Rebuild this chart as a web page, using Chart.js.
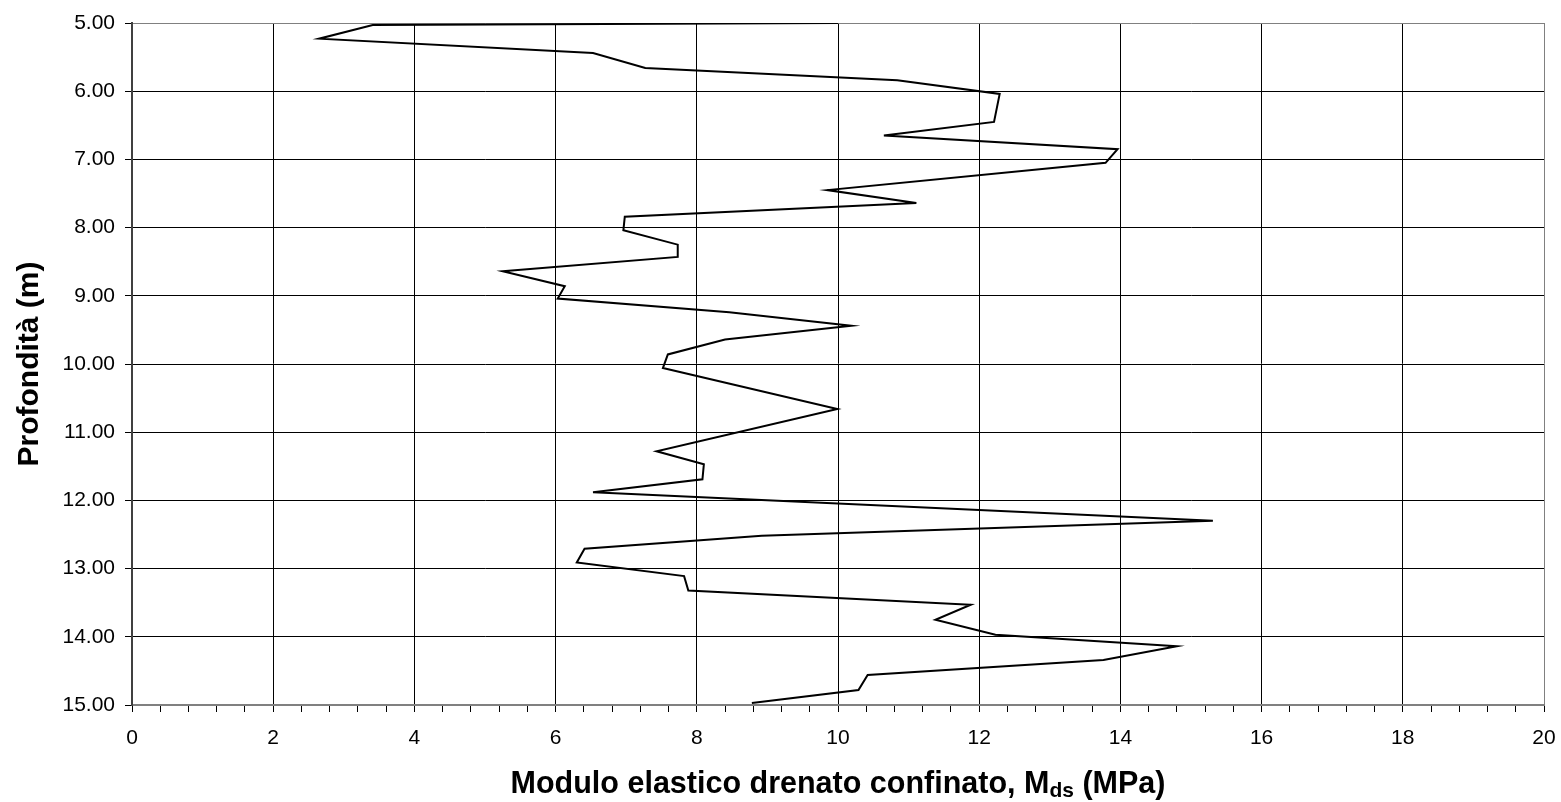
<!DOCTYPE html>
<html>
<head>
<meta charset="utf-8">
<title>Modulo elastico drenato confinato</title>
<script src="https://cdn.jsdelivr.net/npm/chart.js@4/dist/chart.umd.min.js"></script>
<style>
  body { margin: 0; background: #fff; }
  canvas { display: block; }
</style>
</head>
<body>
<canvas id="myChart" width="1561" height="802"></canvas>
<script>
// valori (profondita in m, modulo in MPa)
const depth = [5.00, 5.03, 5.23, 5.44, 5.66, 5.84, 6.04, 6.45, 6.65, 6.85, 7.05, 7.45, 7.64, 7.84,
  8.04, 8.25, 8.43, 8.64, 8.86, 9.04, 9.24, 9.44, 9.64, 9.86, 10.06, 10.66, 11.28, 11.47, 11.69,
  11.88, 12.30, 12.52, 12.71, 12.91, 13.11, 13.32, 13.53, 13.75, 13.97, 14.14, 14.34, 14.56, 14.78, 14.97];
const mds = [10.00, 3.41, 2.65, 6.53, 7.27, 10.84, 12.29, 12.21, 10.65, 13.96, 13.79, 9.85, 11.11, 6.98,
  6.96, 7.73, 7.73, 5.25, 6.13, 6.03, 8.46, 10.19, 8.40, 7.59, 7.52, 9.99, 7.43, 8.10, 8.08,
  6.53, 15.31, 8.92, 6.41, 6.30, 7.82, 7.88, 11.88, 11.38, 12.23, 14.80, 13.76, 10.42, 10.29, 8.78];

const xTitle = "Modulo elastico drenato confinato, M";
const xTitleSub = "ds";
const xTitleEnd = " (MPa)";
const yTitle = "Profondità (m)";

const FONT = "'Liberation Sans', Arial, sans-serif";
Chart.defaults.font.family = FONT;
Chart.defaults.color = "#000";

function isMajor(v) {
  return Math.abs(v - Math.round(v / 2) * 2) < 1e-6;
}

// titolo asse x con pedice, disegnato sotto il grafico
const xTitlePlugin = {
  id: "xTitle",
  afterDraw(chart) {
    const ctx = chart.ctx;
    const area = chart.chartArea;
    const big = "bold 30.5px " + FONT;
    const small = "bold 21px " + FONT;
    ctx.save();
    ctx.fillStyle = "#000";
    ctx.textBaseline = "alphabetic";
    ctx.font = big;
    const w1 = ctx.measureText(xTitle).width;
    const w3 = ctx.measureText(xTitleEnd).width;
    ctx.font = small;
    const w2 = ctx.measureText(xTitleSub).width;
    let x = (area.left + area.right) / 2 - (w1 + w2 + w3) / 2;
    const y = 793;
    ctx.font = big;
    ctx.fillText(xTitle, x, y);
    x += w1;
    ctx.font = small;
    ctx.fillText(xTitleSub, x, y + 4);
    x += w2;
    ctx.font = big;
    ctx.fillText(xTitleEnd, x, y);
    ctx.restore();
  }
};

const points = depth.map((d, i) => ({ x: mds[i], y: d }));

new Chart("myChart", {
  type: "scatter",
  data: {
    datasets: [{
      data: points,
      showLine: true,
      borderColor: "#000",
      borderWidth: 2,
      pointRadius: 0,
      tension: 0
    }]
  },
  options: {
    responsive: false,
    animation: false,
    layout: { padding: { left: 0, right: 17, top: 23, bottom: 0 } },
    plugins: {
      legend: { display: false },
      tooltip: { enabled: false }
    },
    scales: {
      x: {
        type: "linear",
        min: 0,
        max: 20,
        afterFit: s => {
          s.height = 97;
          s.paddingLeft = 0;
          s.paddingRight = 0;
        },
        ticks: {
          stepSize: 0.4,
          autoSkip: false,
          maxRotation: 0,
          padding: 14,
          font: { size: 21 },
          callback: v => isMajor(v) ? String(Math.round(v)) : ""
        },
        grid: {
          color: c => {
            if (!isMajor(c.tick.value)) return "rgba(0,0,0,0)";
            return c.tick.value === 20 ? "#808080" : "#000";
          },
          tickColor: "#000",
          lineWidth: 1,
          drawTicks: true,
          tickLength: 7
        },
        border: { color: "#808080", width: 2 }
      },
      y: {
        type: "linear",
        min: 5,
        max: 15,
        reverse: true,
        afterFit: s => {
          s.width = 132;
          s.paddingTop = 0;
          s.paddingBottom = 0;
        },
        ticks: {
          stepSize: 1,
          padding: 10,
          font: { size: 21 },
          callback: v => v.toFixed(2)
        },
        grid: {
          color: c => c.tick.value === 5 ? "#808080" : "#000",
          tickColor: "#000",
          lineWidth: 1,
          tickLength: 7
        },
        border: { color: "#404040", width: 2 },
        title: {
          display: true,
          text: yTitle,
          font: { size: 30, weight: "bold" },
          padding: { top: 12, bottom: 0 }
        }
      }
    }
  },
  plugins: [xTitlePlugin]
});
</script>
</body>
</html>
